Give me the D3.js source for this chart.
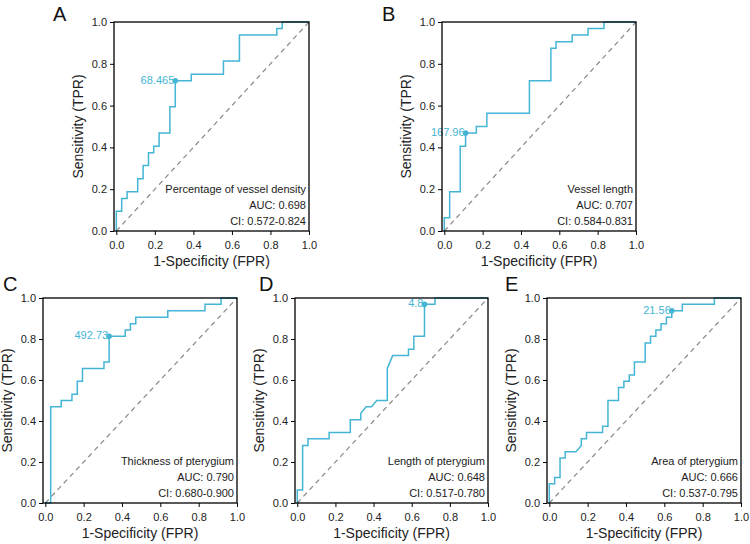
<!DOCTYPE html>
<html>
<head>
<meta charset="utf-8">
<script src="https://cdn.jsdelivr.net/npm/d3@7"></script>
<style>
  body { margin: 0; background: #fff; }
  svg { font-family: "Liberation Sans", Arial, sans-serif; }
</style>
</head>
<body>
<svg width="750" height="544"></svg>
<script>
// ROC points (fpr, tpr)
var fprA = [0,0,0.028,0.028,0.056,0.056,0.111,0.111,0.139,0.139,0.167,0.167,0.194,0.194,0.222,0.222,0.278,0.278,0.306,0.306,0.389,0.389,0.556,0.556,0.639,0.639,0.833,0.833,0.861,0.861,1];
var tprA = [0,0.094,0.094,0.156,0.156,0.188,0.188,0.25,0.25,0.313,0.313,0.375,0.375,0.406,0.406,0.469,0.469,0.594,0.594,0.719,0.719,0.75,0.75,0.813,0.813,0.938,0.938,0.969,0.969,1,1];

var fprB = [0,0,0.028,0.028,0.083,0.083,0.111,0.111,0.167,0.167,0.222,0.222,0.444,0.444,0.556,0.556,0.583,0.583,0.667,0.667,0.75,0.75,0.833,0.833,1];
var tprB = [0,0.063,0.063,0.188,0.188,0.406,0.406,0.469,0.469,0.5,0.5,0.563,0.563,0.719,0.719,0.875,0.875,0.906,0.906,0.938,0.938,0.969,0.969,1,1];

var fprC = [0,0.028,0.028,0.083,0.083,0.139,0.139,0.167,0.167,0.194,0.194,0.306,0.306,0.333,0.333,0.417,0.417,0.444,0.444,0.472,0.472,0.639,0.639,0.833,0.833,0.917,0.917,1];
var tprC = [0,0,0.469,0.469,0.5,0.5,0.531,0.531,0.594,0.594,0.656,0.656,0.688,0.688,0.813,0.813,0.844,0.844,0.875,0.875,0.906,0.906,0.938,0.938,0.969,0.969,1,1];

var fprD = [0,0,0.028,0.028,0.056,0.056,0.167,0.167,0.278,0.278,0.333,0.333,0.361,0.389,0.417,0.472,0.472,0.5,0.583,0.583,0.611,0.611,0.667,0.667,0.722,0.722,1];
var tprD = [0,0.063,0.063,0.281,0.281,0.313,0.313,0.344,0.344,0.406,0.406,0.438,0.469,0.469,0.5,0.5,0.656,0.719,0.719,0.75,0.75,0.813,0.813,0.969,0.969,1,1];

var fprE = [0,0,0.028,0.028,0.056,0.056,0.083,0.083,0.139,0.167,0.167,0.194,0.194,0.278,0.278,0.306,0.306,0.361,0.361,0.389,0.389,0.417,0.417,0.444,0.444,0.5,0.5,0.528,0.528,0.556,0.556,0.583,0.583,0.611,0.611,0.639,0.639,0.694,0.694,0.861,0.861,1];
var tprE = [0,0.094,0.094,0.125,0.125,0.219,0.219,0.25,0.25,0.281,0.313,0.313,0.344,0.344,0.375,0.375,0.5,0.5,0.563,0.563,0.594,0.594,0.625,0.625,0.688,0.688,0.781,0.781,0.813,0.813,0.844,0.844,0.875,0.875,0.906,0.906,0.938,0.938,0.969,0.969,1,1];

var letters = ["A", "B", "C", "D", "E"];
var titles = ["Percentage of vessel density", "Vessel length", "Thickness of pterygium", "Length of pterygium", "Area of pterygium"];
var aucs = ["0.698", "0.707", "0.790", "0.648", "0.666"];
var cis = ["0.572-0.824", "0.584-0.831", "0.680-0.900", "0.517-0.780", "0.537-0.795"];
var cutLabels = ["68.465", "167.96", "492.73", "4.8", "21.56"];
var cutFpr = [0.306, 0.111, 0.333, 0.667, 0.639];
var cutTpr = [0.719, 0.469, 0.813, 0.969, 0.938];
var tickVals = [0, 0.2, 0.4, 0.6, 0.8, 1.0];

var fprs = [fprA, fprB, fprC, fprD, fprE];
var tprs = [tprA, tprB, tprC, tprD, tprE];

// frame positions of each panel
var frames = [
    {left: 114, top: 22, w: 195, h: 209, lx: 53, ly: 21},
    {left: 442, top: 22, w: 194, h: 209, lx: 382, ly: 21},
    {left: 43, top: 298, w: 194, h: 205, lx: 3, ly: 291},
    {left: 295, top: 298, w: 193, h: 205, lx: 259, ly: 291},
    {left: 547, top: 298, w: 194, h: 205, lx: 505, ly: 291}
];

var lineColor = "#45b5d5";
var svg = d3.select("svg");

for (var p = 0; p < 5; p++) {
    var f = frames[p];
    var x = d3.scaleLinear().domain([-0.012, 1]).range([0, f.w]);
    var y = d3.scaleLinear().domain([0, 1]).range([f.h, 0]);
    var g = svg.append("g").attr("transform", "translate(" + f.left + "," + f.top + ")");

    var pts = fprs[p].map(function(d, i) { return [d, tprs[p][i]]; });

    // diagonal reference
    g.append("line")
        .attr("x1", x(0)).attr("y1", y(0))
        .attr("x2", x(1)).attr("y2", y(1))
        .style("stroke", "#888")
        .style("stroke-width", 1.2)
        .style("stroke-dasharray", "5,4");

    var line = d3.line()
        .x(function(d) { return x(d[0]); })
        .y(function(d) { return y(d[1]); });

    g.append("path")
        .datum(pts)
        .attr("d", line)
        .style("fill", "none")
        .style("stroke", lineColor)
        .style("stroke-width", 1.5);

    // cutoff point
    g.append("circle")
        .attr("cx", x(cutFpr[p]))
        .attr("cy", y(cutTpr[p]))
        .attr("r", 2.8)
        .style("fill", lineColor);

    g.append("text")
        .attr("x", x(cutFpr[p]) - 1)
        .attr("y", y(cutTpr[p]) + 3)
        .attr("text-anchor", "end")
        .attr("fill", lineColor)
        .style("font-size", "11px")
        .text(cutLabels[p]);

    // axes
    var xa = g.append("g")
        .attr("transform", "translate(0," + f.h + ")")
        .call(d3.axisBottom(x).tickValues(tickVals).tickFormat(d3.format(".1f")).tickSize(4).tickSizeOuter(0));
    var ya = g.append("g")
        .call(d3.axisLeft(y).tickValues(tickVals).tickFormat(d3.format(".1f")).tickSize(4).tickSizeOuter(0));
    [xa, ya].forEach(function(a) {
        a.select(".domain").remove();
        a.selectAll("line").style("stroke", "#000").style("stroke-width", 1);
        a.selectAll("text").style("font-size", "11px").style("font-family", "Liberation Sans, Arial, sans-serif").attr("fill", "#222");
    });
    xa.selectAll("text").attr("dy", "1.0em");

    // frame
    g.append("rect")
        .attr("x", 0).attr("y", 0)
        .attr("width", f.w).attr("height", f.h)
        .style("fill", "none")
        .style("stroke", "#000")
        .style("stroke-width", 1.3);

    // legend text
    var tx = f.w - 3;
    g.append("text").attr("x", tx).attr("y", f.h - 38).attr("text-anchor", "end")
        .style("font-size", "11px").attr("fill", "#222").text(titles[p]);
    g.append("text").attr("x", tx).attr("y", f.h - 22).attr("text-anchor", "end")
        .style("font-size", "11px").attr("fill", "#222").text("AUC: " + aucs[p]);
    g.append("text").attr("x", tx).attr("y", f.h - 6).attr("text-anchor", "end")
        .style("font-size", "11px").attr("fill", "#222").text("CI: " + cis[p]);

    // axis titles
    g.append("text")
        .attr("x", f.w / 2)
        .attr("y", f.h + 35)
        .attr("text-anchor", "middle")
        .style("font-size", "14px")
        .attr("fill", "#222")
        .text("1-Specificity (FPR)");
    g.append("text")
        .attr("transform", "rotate(-90)")
        .attr("x", -f.h / 2)
        .attr("y", -31)
        .attr("text-anchor", "middle")
        .style("font-size", "14px")
        .attr("fill", "#222")
        .text("Sensitivity (TPR)");

    svg.append("text")
        .attr("x", f.lx)
        .attr("y", f.ly)
        .style("font-size", "20px")
        .attr("fill", "#111")
        .text(letters[p]);
}
</script>
</body>
</html>
